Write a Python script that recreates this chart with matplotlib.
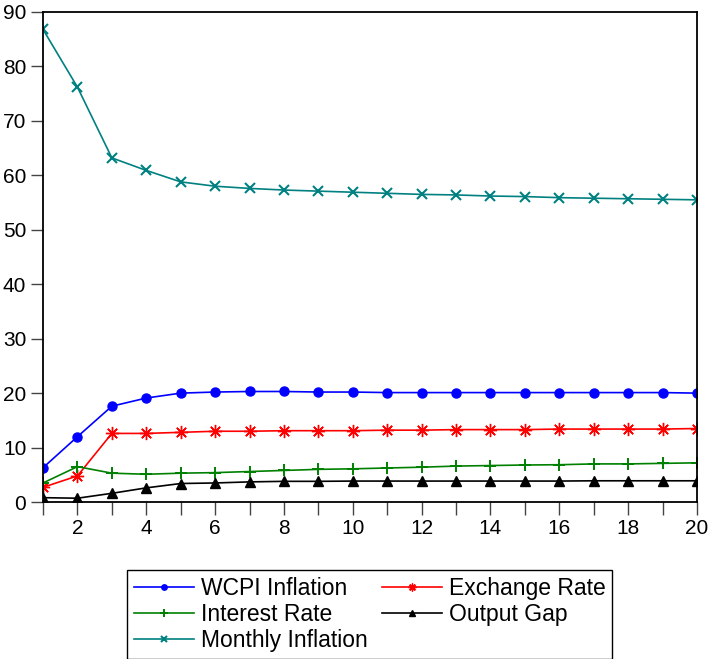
import numpy as np
import matplotlib.pyplot as plt
from matplotlib.ticker import MultipleLocator

plt.rcParams['font.family'] = ['Liberation Sans', 'DejaVu Sans']

periods = list(range(1, 21))

wcpi = [6.3, 12.0, 17.6, 19.1, 20.0, 20.2, 20.3, 20.3, 20.2, 20.2,
        20.1, 20.1, 20.1, 20.1, 20.1, 20.1, 20.1, 20.1, 20.1, 20.0]
exchange = [2.7, 4.8, 12.6, 12.6, 12.8, 13.0, 13.0, 13.1, 13.1, 13.1,
            13.2, 13.2, 13.3, 13.3, 13.3, 13.4, 13.4, 13.4, 13.4, 13.5]
interest = [3.5, 6.5, 5.3, 5.1, 5.3, 5.4, 5.6, 5.8, 6.0, 6.1,
            6.25, 6.4, 6.6, 6.7, 6.8, 6.85, 7.0, 7.0, 7.1, 7.2]
output_gap = [0.8, 0.7, 1.6, 2.6, 3.4, 3.5, 3.7, 3.8, 3.8, 3.85,
              3.85, 3.85, 3.85, 3.85, 3.85, 3.85, 3.9, 3.9, 3.9, 3.9]
monthly = [86.8, 76.2, 63.2, 60.9, 58.8, 58.0, 57.6, 57.3, 57.1, 56.9,
           56.7, 56.5, 56.4, 56.2, 56.1, 55.9, 55.8, 55.7, 55.6, 55.5]

fig = plt.figure(figsize=(7.1, 6.59), dpi=100)
ax = fig.add_axes([0.0606, 0.2382, 0.9211, 0.7436])

lw = 1.2
l_wcpi, = ax.plot(periods, wcpi, color='#0000ff', lw=lw, marker='o', ms=6.5)
l_exch, = ax.plot(periods, exchange, color='#ff0000', lw=lw, marker=(8, 2, 0), ms=9.5, mew=1.0)
l_int, = ax.plot(periods, interest, color='#008000', lw=lw, marker='+', ms=9, mew=1.4)
l_out, = ax.plot(periods, output_gap, color='black', lw=lw, marker='^', ms=7)
l_mon, = ax.plot(periods, monthly, color='#008080', lw=lw, marker='x', ms=6.5, mew=1.5)

ax.set_xlim(1, 20)
ax.set_ylim(0, 90)
ax.xaxis.set_major_locator(MultipleLocator(2))
ax.xaxis.set_minor_locator(MultipleLocator(1))
ax.yaxis.set_major_locator(MultipleLocator(10))
ax.tick_params(axis='both', which='both', direction='out', length=9, width=1,
               color='#444444', labelsize=15, pad=3)
for s in ax.spines.values():
    s.set_linewidth(1.3)
    s.set_color('black')

handles = [l_wcpi, l_int, l_mon, l_exch, l_out]
labels = ['WCPI Inflation', 'Interest Rate', 'Monthly Inflation',
          'Exchange Rate', 'Output Gap']
leg = fig.legend(handles, labels, loc='upper center', bbox_to_anchor=(0.521, 0.152),
                 ncol=2, numpoints=1, markerscale=0.6, fontsize=16.5,
                 handlelength=2.6, handletextpad=0.3, columnspacing=0.65,
                 labelspacing=0.13, borderpad=0.3, fancybox=False,
                 edgecolor='black', framealpha=1)
leg.get_frame().set_linewidth(1.0)

fig.savefig('out.png', dpi=100)
